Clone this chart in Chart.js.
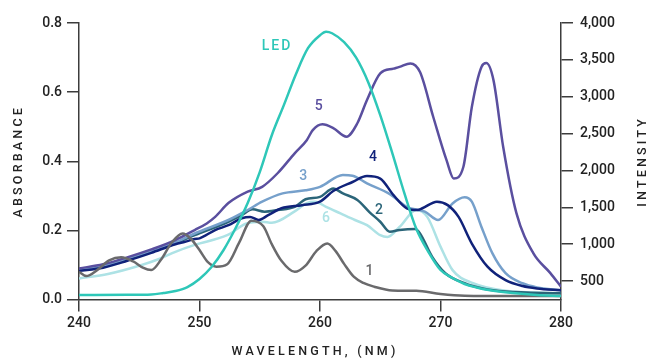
<!DOCTYPE html>
<html><head><meta charset="utf-8">
<script src="https://cdn.jsdelivr.net/npm/chart.js@4.4.1/dist/chart.umd.min.js"></script>
<style>html,body{margin:0;padding:0;background:#fff}#wrap{width:652px;height:360px;position:relative}</style>
</head><body><div id="wrap"><canvas id="c"></canvas></div>
<script>
// ---- data ----
const xTicks = [240, 250, 260, 270, 280];
const absTicks = [0, 0.2, 0.4, 0.6, 0.8];
const intTicks = [500, 1000, 1500, 2000, 2500, 3000, 3500, 4000];
const ledNm  = [240,244,246,247,248,249,250,251,252,253,254,255,256,257,258,259,260,260.5,261,262,263,264,265,266,267,268,269,270,271,272,273,274,276,278,280];
const ledInt = [311,313,318,338,365,419,528,690,921,1219,1558,1978,2478,2886,3306,3658,3834,3881,3861,3739,3530,3197,2750,2235,1693,1205,894,650,541,460,413,379,338,311,297];

const s1Nm = [240,240.6,241.5,242.5,243.5,244.5,245.3,246,246.8,247.7,248.6,249.3,250,250.7,251.4,252.3,253.3,254.3,255.3,256,256.8,257.9,258.8,259.7,260.6,261.3,262,262.8,263.6,264.5,266,268,270,272,276,280];
const s1Abs = [0.080,0.068,0.085,0.113,0.122,0.110,0.092,0.085,0.115,0.165,0.191,0.175,0.143,0.108,0.095,0.102,0.165,0.228,0.212,0.160,0.112,0.080,0.098,0.140,0.162,0.140,0.103,0.066,0.048,0.037,0.026,0.025,0.016,0.011,0.010,0.010];

const s5Nm = [240,242,244,246,248,249.6,250.6,251.3,252.4,254,255.2,256.5,257.9,258.9,259.4,260.2,261.1,262.2,263.1,263.9,265,266.1,266.6,267.5,268.3,269.4,270.5,271.1,271.9,272.6,273.4,273.8,274.4,275.2,276.3,277.7,279.1,280];
const s5Abs = [0.090,0.102,0.122,0.145,0.172,0.201,0.220,0.239,0.279,0.312,0.326,0.366,0.423,0.461,0.490,0.507,0.496,0.471,0.510,0.577,0.654,0.668,0.673,0.683,0.658,0.528,0.403,0.350,0.384,0.557,0.673,0.684,0.634,0.442,0.250,0.134,0.077,0.037];

const s4Nm = [240,242,244,246,248,248.8,249.6,250,251.3,252.4,253.5,254.2,254.9,255.7,256.8,258.5,260,261.1,262.7,263.9,265,266.1,267.2,268.1,268.5,269.7,270.6,271.5,272.6,273.9,275.4,276.8,278,280];
const s4Abs = [0.083,0.092,0.112,0.135,0.160,0.167,0.175,0.177,0.201,0.215,0.235,0.239,0.230,0.244,0.264,0.273,0.283,0.314,0.340,0.357,0.350,0.302,0.264,0.259,0.264,0.283,0.273,0.239,0.162,0.095,0.056,0.039,0.032,0.027];

const s3Nm = [240,242,244,246,248,249.6,252.4,254,255.2,256.9,258.8,260,261.9,262.7,263.9,265.8,267.2,268.7,269.8,271,272,272.6,273.4,274.3,275.4,276.8,278,280];
const s3Abs = [0.085,0.097,0.118,0.140,0.165,0.191,0.230,0.259,0.283,0.307,0.316,0.326,0.360,0.358,0.336,0.305,0.268,0.254,0.230,0.278,0.296,0.283,0.210,0.134,0.076,0.047,0.035,0.027];

const s2Nm = [240,242,244,246,248,249.6,252.4,253.5,254.4,255.4,256.5,257.9,258.8,260,261.1,261.9,263.1,264.1,265,265.8,266.6,267.9,268.3,269.3,270.4,272,273.5,275.4,280];
const s2Abs = [0.088,0.097,0.117,0.138,0.163,0.186,0.225,0.244,0.261,0.254,0.259,0.268,0.290,0.297,0.321,0.307,0.288,0.253,0.225,0.196,0.201,0.204,0.191,0.124,0.076,0.047,0.032,0.023,0.018];

const s6Nm = [240,242.4,245.2,246.7,248,249.6,252.3,253.9,255.2,256,257.9,258.9,259.6,260.5,261.7,262.9,263.9,265,265.6,266.6,268,268.9,270,271,272.7,275.4,280];
const s6Abs = [0.061,0.074,0.100,0.118,0.138,0.158,0.186,0.220,0.225,0.222,0.255,0.279,0.283,0.268,0.249,0.230,0.215,0.186,0.181,0.210,0.259,0.239,0.153,0.085,0.047,0.025,0.018];

const seriesLabels = ['LED','1','5','4','3','2','6'];
const labelNm  = [256.35, 264.1, 259.9, 264.4, 258.6, 264.9, 260.5];
const labelAbs = [0.733, 0.082, 0.559, 0.412, 0.357, 0.257, 0.235];

// ---- styles ----
const colors = {LED:'#2ec7b8','1':'#6a6a6c','5':'#5a4f9f','4':'#10227a','3':'#76a0cb','2':'#2b6579','6':'#ade2e5'};
const axisColor = '#3c3c3c';
const pts = (xs, ys) => xs.map((x, i) => ({x, y: ys[i]}));

function ds(label, data, axis) {
  return {label, data, yAxisID: axis, borderColor: colors[label], borderWidth: 2.5,
    pointRadius: 0, fill: false, cubicInterpolationMode: 'monotone'};
}

const labelPlugin = {
  id: 'lbls',
  afterDatasetsDraw(chart) {
    const {ctx} = chart; const xs = chart.scales.x, ys = chart.scales.y;
    ctx.save();
    ctx.textAlign = 'center'; ctx.textBaseline = 'middle';
    seriesLabels.forEach((l, i) => {
      ctx.fillStyle = colors[l];
      ctx.font = '500 14px Roboto';
      ctx.letterSpacing = l === 'LED' ? '2px' : '0px';
      ctx.fillText(l, xs.getPixelForValue(labelNm[i]) + (l === 'LED' ? 1 : 0), ys.getPixelForValue(labelAbs[i]));
    });
    ctx.restore();
  }
};

const titlePlugin = {
  id: 'titles',
  afterDraw(chart) {
    const {ctx, chartArea: a} = chart;
    ctx.save();
    ctx.fillStyle = '#222'; ctx.font = '500 12.5px Roboto';
    ctx.letterSpacing = '3.2px';
    ctx.textAlign = 'center'; ctx.textBaseline = 'middle';
    const cy = (a.top + a.bottom) / 2;
    ctx.fillText('WAVELENGTH, (NM)', 315, 352);
    ctx.save(); ctx.translate(19, cy); ctx.rotate(-Math.PI / 2); ctx.fillText('ABSORBANCE', 0, 0); ctx.restore();
    ctx.save(); ctx.translate(643, cy); ctx.rotate(-Math.PI / 2); ctx.fillText('INTENSITY', 0, 0); ctx.restore();
    ctx.restore();
  }
};

Chart.defaults.font.family = 'Roboto';
const gridOpts = {display: true, drawOnChartArea: false, drawTicks: true, tickLength: 12, color: axisColor, lineWidth: 1.5};
const borderOpts = {display: true, color: axisColor, width: 1.5};
const tickFont = {size: 14, weight: '500'};

new Chart(document.getElementById('c'), {
  type: 'line',
  data: {datasets: [
    ds('LED', pts(ledNm, ledInt), 'y2'),
    ds('1', pts(s1Nm, s1Abs), 'y'),
    ds('5', pts(s5Nm, s5Abs), 'y'),
    ds('4', pts(s4Nm, s4Abs), 'y'),
    ds('3', pts(s3Nm, s3Abs), 'y'),
    ds('2', pts(s2Nm, s2Abs), 'y'),
    ds('6', pts(s6Nm, s6Abs), 'y')
  ]},
  options: {
    responsive: true, maintainAspectRatio: false, animation: false,
    layout: {padding: {top: 23, left: 0, right: 0, bottom: 0}},
    plugins: {legend: {display: false}, tooltip: {enabled: false}},
    scales: {
      x: {type: 'linear', min: 240, max: 280,
        afterBuildTicks: s => { s.ticks = xTicks.map(v => ({value: v})); },
        afterFit: s => { s.height = 60.5; },
        grid: gridOpts, border: borderOpts,
        ticks: {color: '#222', font: tickFont, padding: 4, maxRotation: 0}},
      y: {position: 'left', min: 0, max: 0.8,
        afterBuildTicks: s => { s.ticks = absTicks.map(v => ({value: v})); },
        afterFit: s => { s.width = 79; },
        grid: gridOpts, border: borderOpts,
        ticks: {color: '#222', font: tickFont, padding: 5, callback: v => Number(v).toFixed(1)}},
      y2: {position: 'right', min: 250, max: 4000,
        afterBuildTicks: s => { s.ticks = intTicks.map(v => ({value: v})); },
        afterFit: s => { s.width = 91; },
        grid: gridOpts, border: borderOpts,
        ticks: {color: '#222', font: tickFont, padding: 7, callback: v => Number(v).toLocaleString('en-US')}}
    }
  },
  plugins: [labelPlugin, titlePlugin]
});
</script></body></html>
